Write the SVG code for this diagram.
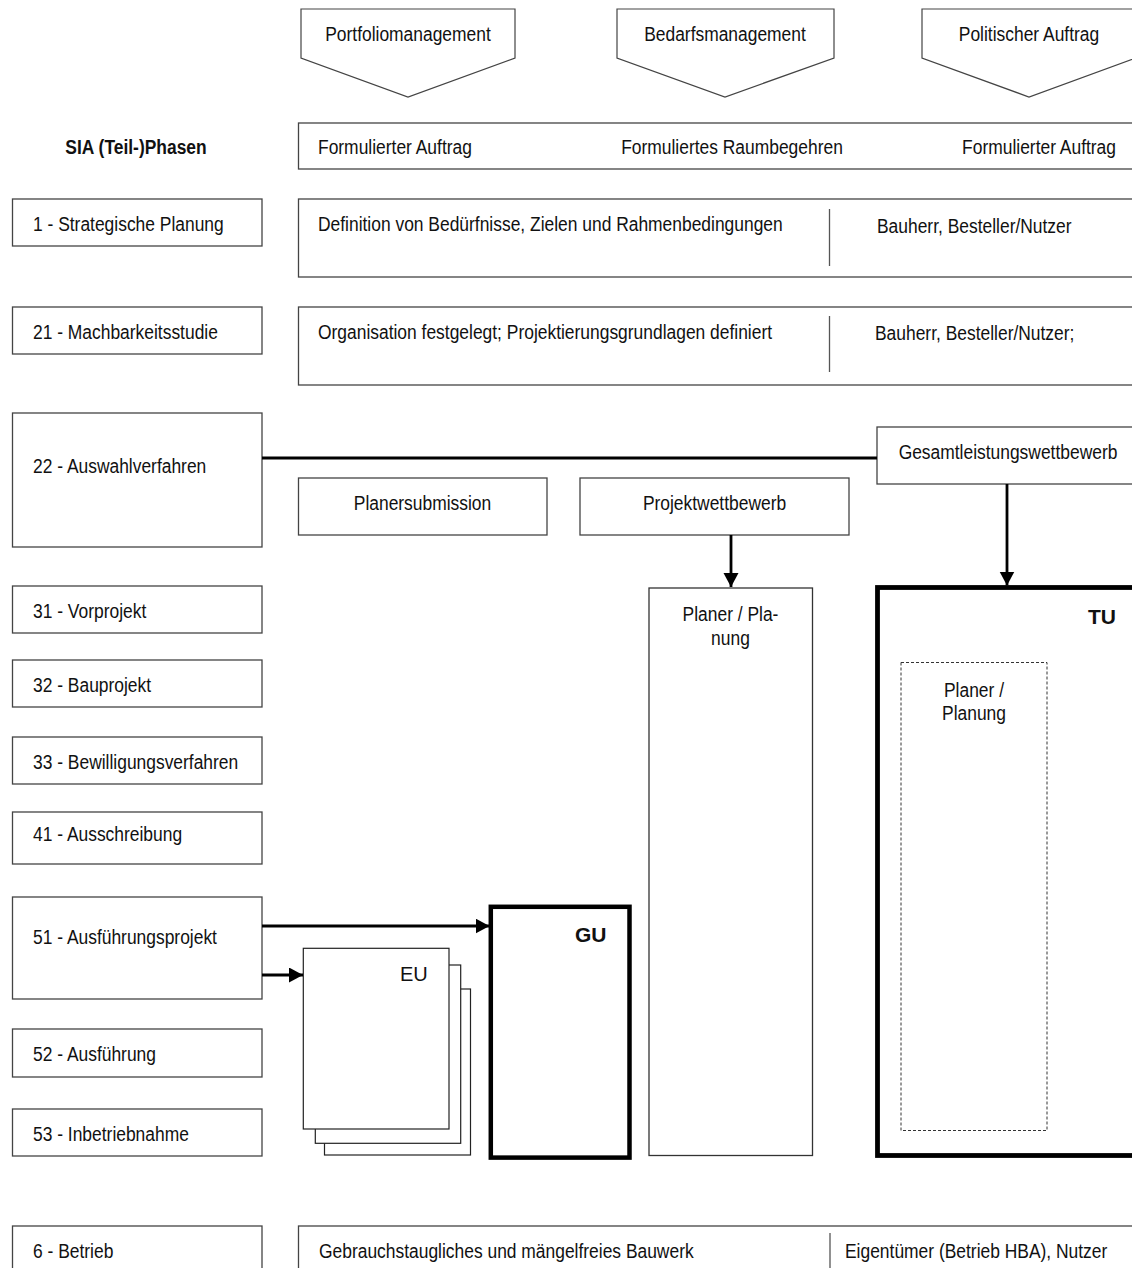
<svg xmlns="http://www.w3.org/2000/svg" width="1132" height="1268" viewBox="0 0 1132 1268">
<style>
  .t { font-family: "Liberation Sans", Arial, sans-serif; font-size: 21px; fill: #111; }
  .b { font-weight: bold; }
  .m { text-anchor: middle; }
  .box { fill: #fff; stroke: #444; stroke-width: 1.3; }
  .pent { fill: #fff; stroke: #444; stroke-width: 1.2; }
  .thick { fill: #fff; stroke: #000; stroke-width: 4.8; }
  .dash { fill: none; stroke: #333; stroke-width: 1; stroke-dasharray: 3 2; }
  .div { stroke: #555; stroke-width: 1.3; }
  .conn { stroke: #000; stroke-width: 2.8; fill: none; }
</style>
<defs>
  <marker id="ah" markerUnits="userSpaceOnUse" markerWidth="15" markerHeight="16" refX="14" refY="7.5" orient="auto">
    <path d="M0,0 L14,7.5 L0,15 z" fill="#000"/>
  </marker>
</defs>
<rect width="1132" height="1268" fill="#fff"/>

<!-- top pentagons -->
<g id="pent-portfolio">
  <polygon class="pent" points="301,9 515,9 515,58 408,97 301,58"/>
  <text class="t m" transform="translate(408 41) scale(0.83 1)">Portfoliomanagement</text>
</g>
<g id="pent-bedarf">
  <polygon class="pent" points="617,9 834,9 834,58 725,97 617,58"/>
  <text class="t m" transform="translate(725 41) scale(0.83 1)">Bedarfsmanagement</text>
</g>
<g id="pent-politik">
  <polygon class="pent" points="922,9 1136,9 1136,58 1029,97 922,58"/>
  <text class="t m" transform="translate(1029 41) scale(0.83 1)">Politischer Auftrag</text>
</g>

<!-- header -->
<g id="header-sia">
  <text class="t b m" transform="translate(136 154) scale(0.83 1)">SIA (Teil-)Phasen</text>
</g>
<g id="row-auftrag">
  <rect class="box" x="298.5" y="123" width="845" height="46"/>
  <text class="t" transform="translate(318 154) scale(0.83 1)">Formulierter Auftrag</text>
  <text class="t m" transform="translate(732 154) scale(0.83 1)">Formuliertes Raumbegehren</text>
  <text class="t" text-anchor="end" transform="translate(1116 154) scale(0.83 1)">Formulierter Auftrag</text>
</g>

<!-- left phases -->
<g id="phase-1">
  <rect class="box" x="12.5" y="199" width="249.5" height="47"/>
  <text class="t" transform="translate(33 231) scale(0.83 1)">1 - Strategische Planung</text>
</g>
<g id="phase-21">
  <rect class="box" x="12.5" y="307" width="249.5" height="47"/>
  <text class="t" transform="translate(33 339) scale(0.83 1)">21 - Machbarkeitsstudie</text>
</g>
<g id="phase-22">
  <rect class="box" x="12.5" y="413" width="249.5" height="134"/>
  <text class="t" transform="translate(33 473) scale(0.83 1)">22 - Auswahlverfahren</text>
</g>
<g id="phase-31">
  <rect class="box" x="12.5" y="586" width="249.5" height="47"/>
  <text class="t" transform="translate(33 618) scale(0.83 1)">31 - Vorprojekt</text>
</g>
<g id="phase-32">
  <rect class="box" x="12.5" y="660" width="249.5" height="47"/>
  <text class="t" transform="translate(33 692) scale(0.83 1)">32 - Bauprojekt</text>
</g>
<g id="phase-33">
  <rect class="box" x="12.5" y="737" width="249.5" height="47"/>
  <text class="t" transform="translate(33 769) scale(0.83 1)">33 - Bewilligungsverfahren</text>
</g>
<g id="phase-41">
  <rect class="box" x="12.5" y="812" width="249.5" height="52"/>
  <text class="t" transform="translate(33 841) scale(0.83 1)">41 - Ausschreibung</text>
</g>
<g id="phase-51">
  <rect class="box" x="12.5" y="897" width="249.5" height="102"/>
  <text class="t" transform="translate(33 944) scale(0.83 1)">51 - Ausführungsprojekt</text>
</g>
<g id="phase-52">
  <rect class="box" x="12.5" y="1029" width="249.5" height="48"/>
  <text class="t" transform="translate(33 1061) scale(0.83 1)">52 - Ausführung</text>
</g>
<g id="phase-53">
  <rect class="box" x="12.5" y="1109" width="249.5" height="47"/>
  <text class="t" transform="translate(33 1141) scale(0.83 1)">53 - Inbetriebnahme</text>
</g>
<g id="phase-6">
  <rect class="box" x="12.5" y="1226" width="249.5" height="50"/>
  <text class="t" transform="translate(33 1258) scale(0.83 1)">6 - Betrieb</text>
</g>

<!-- content rows -->
<g id="row-definition">
  <rect class="box" x="298.5" y="199" width="845" height="78"/>
  <line class="div" x1="829.5" y1="209" x2="829.5" y2="266"/>
  <text class="t" transform="translate(318 231) scale(0.83 1)">Definition von Bedürfnisse, Zielen und Rahmenbedingungen</text>
  <text class="t" transform="translate(877 233) scale(0.83 1)">Bauherr, Besteller/Nutzer</text>
</g>
<g id="row-organisation">
  <rect class="box" x="298.5" y="307" width="845" height="78"/>
  <line class="div" x1="829.5" y1="316" x2="829.5" y2="372"/>
  <text class="t" transform="translate(318 339) scale(0.83 1)">Organisation festgelegt; Projektierungsgrundlagen definiert</text>
  <text class="t" transform="translate(875 340) scale(0.83 1)">Bauherr, Besteller/Nutzer;</text>
</g>
<g id="row-betrieb">
  <rect class="box" x="298.5" y="1226" width="845" height="50"/>
  <line class="div" x1="830" y1="1233" x2="830" y2="1268"/>
  <text class="t" transform="translate(319 1258) scale(0.83 1)">Gebrauchstaugliches und mängelfreies Bauwerk</text>
  <text class="t" transform="translate(845 1258) scale(0.83 1)">Eigentümer (Betrieb HBA), Nutzer</text>
</g>

<!-- selection procedures -->
<g id="gesamtleistung">
  <rect class="box" x="877" y="427" width="265" height="57"/>
  <text class="t m" transform="translate(1008 459) scale(0.83 1)">Gesamtleistungswettbewerb</text>
</g>
<g id="planersubmission">
  <rect class="box" x="298.5" y="478" width="248.5" height="57"/>
  <text class="t m" transform="translate(422.5 510) scale(0.83 1)">Planersubmission</text>
</g>
<g id="projektwettbewerb">
  <rect class="box" x="580" y="478" width="269" height="57"/>
  <text class="t m" transform="translate(714.5 510) scale(0.83 1)">Projektwettbewerb</text>
</g>

<!-- planer -->
<g id="planer">
  <rect class="box" x="649" y="588" width="163.5" height="567.5" style="stroke:#333"/>
  <text class="t m" transform="translate(730.5 621) scale(0.83 1)">Planer / Pla-</text>
  <text class="t m" transform="translate(730.5 645) scale(0.83 1)">nung</text>
</g>

<!-- TU -->
<g id="tu">
  <rect class="thick" x="877.5" y="587.5" width="265" height="568"/>
  <text class="t b" x="1088" y="624">TU</text>
  <rect class="dash" x="901" y="662.5" width="146" height="468"/>
  <text class="t m" transform="translate(974 697) scale(0.83 1)">Planer /</text>
  <text class="t m" transform="translate(974 720) scale(0.83 1)">Planung</text>
</g>

<!-- GU -->
<g id="gu">
  <rect class="thick" x="490.8" y="906.8" width="138.7" height="250.8" style="stroke-width:4.5"/>
  <text class="t b" x="575" y="942">GU</text>
</g>

<!-- EU stack -->
<g id="eu">
  <rect class="box" x="324.5" y="989" width="146" height="166" style="stroke:#222;stroke-width:1.2"/>
  <rect class="box" x="315.3" y="965" width="145.4" height="178.3" style="stroke:#222;stroke-width:1.2"/>
  <rect class="box" x="303.3" y="948.3" width="145.7" height="180.7" style="stroke:#222;stroke-width:1.2"/>
  <text class="t" x="400" y="980.5" style="font-size:20px">EU</text>
</g>

<!-- connectors -->
<g id="connectors">
  <line class="conn" x1="262" y1="458" x2="877" y2="458"/>
  <line class="conn" x1="731" y1="535" x2="731" y2="587" marker-end="url(#ah)"/>
  <line class="conn" x1="1007" y1="484" x2="1007" y2="585.5" marker-end="url(#ah)"/>
  <line class="conn" x1="262" y1="926" x2="489.5" y2="926" marker-end="url(#ah)"/>
  <line class="conn" x1="262" y1="975" x2="303" y2="975" marker-end="url(#ah)"/>
</g>
</svg>
